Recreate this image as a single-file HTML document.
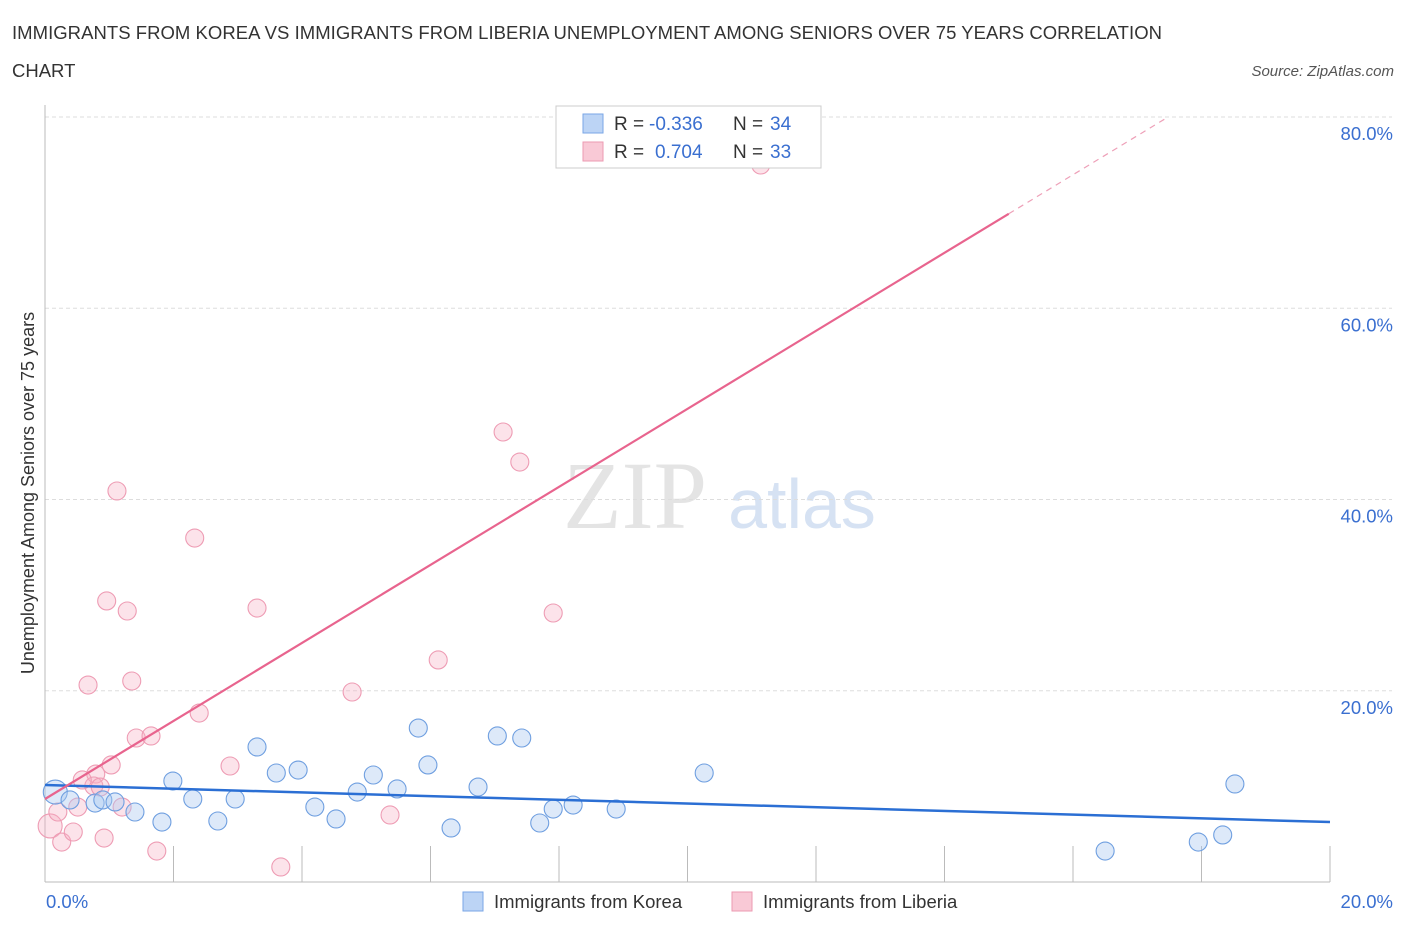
<!DOCTYPE html>
<html><head><meta charset="utf-8"><style>
body{margin:0;background:#fff;font-family:"Liberation Sans",sans-serif;}
svg{display:block}
</style></head><body>
<svg id="chart" width="1406" height="930">
<text x="12" y="39" font-size="18.5" fill="#333" textLength="1150">IMMIGRANTS FROM KOREA VS IMMIGRANTS FROM LIBERIA UNEMPLOYMENT AMONG SENIORS OVER 75 YEARS CORRELATION</text>
<text x="12" y="77" font-size="18.5" fill="#333">CHART</text>
<text x="1394" y="76" font-size="15" font-style="italic" fill="#555" text-anchor="end">Source: ZipAtlas.com</text>
<text x="635" y="528" font-size="96" font-family="Liberation Serif,serif" fill="#e4e4e4" text-anchor="middle">ZIP</text>
<text x="802" y="528" font-size="70" fill="#d6e2f3" text-anchor="middle">atlas</text>
<g id="grid"></g><g id="marks"></g>
<text transform="translate(34,493) rotate(-90)" font-size="18" fill="#333" text-anchor="middle">Unemployment Among Seniors over 75 years</text>
<g>
<rect x="556" y="106" width="265" height="62" fill="#fff" stroke="#ccc"/>
<rect x="583" y="114" width="20" height="19" fill="#bcd4f5" stroke="#7aa6e6"/>
<rect x="583" y="142" width="20" height="19" fill="#f9c9d6" stroke="#ec9ab2"/>
<text x="614" y="130" font-size="19" fill="#333">R =</text>
<text x="649" y="130" font-size="19" fill="#3a6fd0">-0.336</text>
<text x="733" y="130" font-size="19" fill="#333">N =</text>
<text x="770" y="130" font-size="19" fill="#3a6fd0">34</text>
<text x="614" y="158" font-size="19" fill="#333">R =</text>
<text x="655" y="158" font-size="19" fill="#3a6fd0">0.704</text>
<text x="733" y="158" font-size="19" fill="#333">N =</text>
<text x="770" y="158" font-size="19" fill="#3a6fd0">33</text>
</g>
<g>
<rect x="463" y="892" width="20" height="19" fill="#bcd4f5" stroke="#7aa6e6"/>
<text x="494" y="908" font-size="18.5" fill="#333">Immigrants from Korea</text>
<rect x="732" y="892" width="20" height="19" fill="#f9c9d6" stroke="#ec9ab2"/>
<text x="763" y="908" font-size="18.5" fill="#333">Immigrants from Liberia</text>
</g>
</svg>
<script>
const koreaX=[0.16,0.39,0.78,0.90,1.09,1.40,1.82,1.99,2.30,2.69,2.96,3.30,3.60,3.94,4.20,4.53,4.86,5.11,5.48,5.81,5.96,6.32,6.74,7.04,7.42,7.70,7.91,8.22,8.89,10.26,16.50,17.95,18.33,18.52];
const koreaY=[9.41,8.58,8.26,8.58,8.37,7.32,6.27,10.56,8.68,6.38,8.68,14.12,11.40,11.71,7.84,6.59,9.41,11.19,9.73,16.10,12.24,5.65,9.93,15.27,15.06,6.17,7.63,8.05,7.63,11.40,3.24,4.18,4.92,10.25];
const liberiaX=[0.08,0.20,0.26,0.44,0.51,0.67,0.79,0.76,0.92,0.96,1.03,1.12,1.20,1.28,1.35,1.42,1.65,1.74,2.33,2.40,2.88,3.30,3.67,4.78,5.37,6.12,7.13,7.39,7.91,11.14,0.58,0.86];
const liberiaY=[5.86,7.32,4.18,5.23,7.84,20.60,11.29,10.04,4.60,29.39,12.24,40.89,7.84,28.34,21.02,15.06,15.27,3.24,35.97,17.67,12.13,28.65,1.57,19.87,7.01,23.22,47.06,43.92,28.13,74.98,10.67,9.93];
const koreaTrend=[10.14,6.27]; // y at x=0 and x=20
const liberiaTrend=[8.68,4.08]; // intercept, slope
const yTicks=[20,40,60,80];
const NS="http://www.w3.org/2000/svg";
const sx=v=>45+v*64.25, sy=v=>882-v*9.5625;
function mk(tag,attrs,parent){const e=document.createElementNS(NS,tag);for(const k in attrs)e.setAttribute(k,attrs[k]);parent.appendChild(e);return e;}
const grid=document.getElementById('grid'), marks=document.getElementById('marks');
yTicks.forEach(t=>{
 const l=mk('line',{x1:45,x2:1392,y1:sy(t),y2:sy(t),stroke:'#ddd','stroke-dasharray':'4,3'},grid);
 
 
 const tx=mk('text',{x:1393,y:sy(t)+23,'font-size':18.5,fill:'#3a6fd0','text-anchor':'end'},grid);
 tx.textContent=t.toFixed(1)+'%';
 
 
});
mk('line',{x1:45,x2:45,y1:105,y2:882,stroke:'#bbb'},grid);
mk('line',{x1:45,x2:1330,y1:882,y2:882,stroke:'#bbb'},grid);
for(let i=1;i<=10;i++){const t=mk('line',{x1:sx(i*2),x2:sx(i*2),y1:846,y2:882,stroke:'#bbb'},grid);
 
 }
[[0,'0.0%',46,'start'],[20,'20.0%',1393,'end']].forEach(a=>{const t=mk('text',{x:a[2],y:908,'font-size':18.5,fill:'#3a6fd0','text-anchor':a[3]},grid);t.textContent=a[1];
 
 });
liberiaX.forEach((x,i)=>{const c=mk('circle',{cx:sx(x),cy:sy(liberiaY[i]),r:i==0?12:9,fill:'rgba(246,176,196,0.35)',stroke:'#ee9cb4','stroke-width':1.1},marks);
 
 });
koreaX.forEach((x,i)=>{const c=mk('circle',{cx:sx(x),cy:sy(koreaY[i]),r:i==0?12:9,fill:'rgba(170,200,240,0.4)',stroke:'#6f9fe0','stroke-width':1.1},marks);
 
 });
const kt=mk('line',{x1:sx(0),y1:sy(koreaTrend[0]),x2:sx(20),y2:sy(koreaTrend[1]),stroke:'#2b6fd4','stroke-width':2.5},marks);


const lf=x=>liberiaTrend[0]+liberiaTrend[1]*x;
const lt=mk('line',{x1:sx(0),y1:sy(lf(0)),x2:sx(15),y2:sy(lf(15)),stroke:'#e8648e','stroke-width':2.2},marks);


const ld=mk('line',{x1:sx(15),y1:sy(lf(15)),x2:sx(17.45),y2:sy(lf(17.45)),stroke:'#eea0b8','stroke-width':1.2,'stroke-dasharray':'6,5'},marks);


</script>
</body></html>
